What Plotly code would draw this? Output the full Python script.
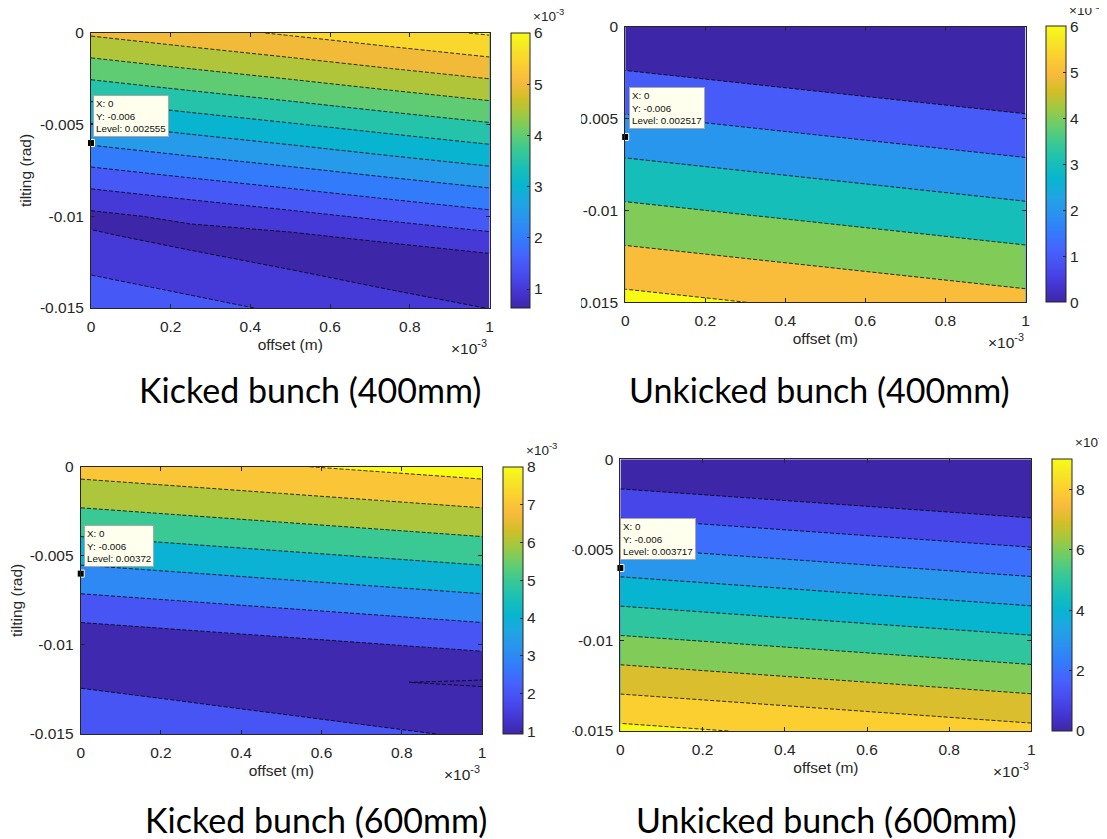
import plotly.graph_objects as go

# ---------------- data ----------------
# offset in units of 1e-3 m, tilting in rad, level in units of 1e-3
offset_fine = [0.0, 0.25, 0.5, 0.75, 1.0]
offset_edges = [0.0, 1.0]

tilt_kicked400 = [0, -0.001, -0.002, -0.003, -0.004, -0.005, -0.006, -0.007,
                  -0.008, -0.009, -0.010, -0.011, -0.012, -0.013, -0.014, -0.015]
level_kicked400 = [
    [5.07, 5.32, 5.56, 5.81, 6.05],
    [4.65, 4.90, 5.14, 5.39, 5.63],
    [4.23, 4.48, 4.72, 4.97, 5.21],
    [3.81, 4.06, 4.30, 4.55, 4.79],
    [3.39, 3.64, 3.88, 4.13, 4.37],
    [2.97, 3.22, 3.46, 3.71, 3.95],
    [2.55, 2.80, 3.04, 3.29, 3.53],
    [2.13, 2.38, 2.62, 2.87, 3.11],
    [1.71, 1.96, 2.20, 2.45, 2.69],
    [1.29, 1.54, 1.78, 2.03, 2.27],
    [0.87, 1.12, 1.36, 1.61, 1.85],
    [1.05, 0.83, 0.94, 1.19, 1.43],
    [1.25, 1.03, 0.82, 0.77, 1.01],
    [1.46, 1.24, 1.02, 0.80, 0.59],
    [1.66, 1.44, 1.22, 1.00, 0.79],
    [1.86, 1.64, 1.42, 1.21, 0.99],
]

tilt_unkicked400 = [0, -0.005, -0.010, -0.015]
level_unkicked400 = [
    [0.00, -0.99],
    [2.10, 1.11],
    [4.20, 3.21],
    [6.30, 5.31],
]

tilt_kicked600 = [0, -0.001, -0.002, -0.003, -0.004, -0.005, -0.006, -0.007,
                  -0.008, -0.009, -0.010, -0.011, -0.012, -0.0121,
                  -0.013, -0.014, -0.015]
level_kicked600 = [
    [7.43, 7.68, 7.93, 8.18, 8.43],
    [6.81, 7.06, 7.31, 7.56, 7.81],
    [6.19, 6.44, 6.69, 6.94, 7.19],
    [5.57, 5.82, 6.07, 6.32, 6.57],
    [4.95, 5.20, 5.45, 5.70, 5.95],
    [4.33, 4.58, 4.83, 5.08, 5.33],
    [3.70, 3.95, 4.20, 4.45, 4.70],
    [3.08, 3.33, 3.58, 3.83, 4.08],
    [2.46, 2.71, 2.96, 3.21, 3.46],
    [1.84, 2.09, 2.34, 2.59, 2.84],
    [1.22, 1.47, 1.72, 1.97, 2.22],
    [1.52, 1.27, 1.10, 1.35, 1.60],
    [1.85, 1.61, 1.37, 1.13, 0.98],
    [1.89, 1.64, 1.40, 1.03, 0.92],
    [2.19, 1.95, 1.70, 1.46, 1.22],
    [2.52, 2.28, 2.04, 1.80, 1.56],
    [2.86, 2.62, 2.38, 2.13, 1.89],
]

tilt_unkicked600 = [0, -0.005, -0.010, -0.015]
level_unkicked600 = [
    [-0.01, -1.00],
    [3.08, 2.09],
    [6.17, 5.18],
    [9.26, 8.27],
]

contour_start = [1, 1, 1, 1]
contour_step = [0.5, 1, 1, 1]
contour_end = [6, 6, 8, 9]
colorbar_min = [0.63, 0, 0.93, 0]
colorbar_max = [6, 6, 8, 9]
colorbar_ticks = [[1, 2, 3, 4, 5, 6], [0, 1, 2, 3, 4, 5, 6],
                  [1, 2, 3, 4, 5, 6, 7, 8], [0, 2, 4, 6, 8]]

x_tick_vals = [0, 0.2, 0.4, 0.6, 0.8, 1]
x_tick_text = ["0", "0.2", "0.4", "0.6", "0.8", "1"]
y_tick_vals = [0, -0.005, -0.01, -0.015]
y_tick_text = ["0", "-0.005", "-0.01", "-0.015"]

tip_x = [0, 0, 0, 0]
tip_y = [-0.006, -0.006, -0.006, -0.006]
tip_level = ["0.002555", "0.002517", "0.00372", "0.003717"]

captions = ["Kicked bunch (400mm)", "Unkicked bunch (400mm)",
            "Kicked bunch (600mm)", "Unkicked bunch (600mm)"]

panels_x = [offset_fine, offset_edges, offset_fine, offset_edges]
panels_y = [tilt_kicked400, tilt_unkicked400, tilt_kicked600, tilt_unkicked600]
panels_z = [level_kicked400, level_unkicked400, level_kicked600, level_unkicked600]

# ---------------- style ----------------
# the page places the figure 8 px from the top-left corner of the window
OFF = 8
W, H = 1107 - OFF, 839 - OFF
PARULA = [
    (0.2422, 0.1504, 0.6603), (0.2706, 0.2147, 0.8364), (0.2813, 0.3006, 0.9414),
    (0.2699, 0.3892, 0.9906), (0.1963, 0.4847, 0.9892), (0.1687, 0.5703, 0.9359),
    (0.1248, 0.6459, 0.8883), (0.0297, 0.7082, 0.8163), (0.0964, 0.7500, 0.7120),
    (0.2161, 0.7843, 0.5923), (0.3909, 0.8029, 0.4354), (0.6174, 0.7876, 0.2612),
    (0.8203, 0.7498, 0.1535), (0.9728, 0.7298, 0.2394), (0.9892, 0.8136, 0.1885),
    (0.9597, 0.9135, 0.1423), (0.9769, 0.9839, 0.0805)]
PARULA_POS = [0, 4, 8, 12, 16, 20, 24, 28, 32, 36, 40, 44, 48, 52, 56, 60, 63]


def parula(v):
    v = min(max(v, 0.0), 1.0) * 63
    for i in range(len(PARULA_POS) - 1):
        p0, p1 = PARULA_POS[i], PARULA_POS[i + 1]
        if v <= p1:
            f = (v - p0) / (p1 - p0)
            c = [a + (b - a) * f for a, b in zip(PARULA[i], PARULA[i + 1])]
            return "rgb(%d,%d,%d)" % tuple(round(255 * t) for t in c)
    c = PARULA[-1]
    return "rgb(%d,%d,%d)" % tuple(round(255 * t) for t in c)


parula_scale = [[p / 63, parula(p / 63)] for p in PARULA_POS]


def band_scale(start, step, end, cmin, cmax):
    nc = int(round((end - start) / step)) + 1
    out = []
    for k in range(nc + 1):
        lower = cmin if k == 0 else start + (k - 1) * step
        out.append([k / nc, parula((lower - cmin) / (cmax - cmin))])
    return out


# pixel boxes in window coordinates (left, top, right, bottom)
plot_px = [(91, 33, 489.5, 308), (625.2, 26.7, 1025.5, 302.3),
           (80.7, 466.7, 482, 734), (620.4, 459.3, 1031.4, 731)]
cbar_px = [(511, 33, 530, 308), (1046, 26.7, 1066, 302.3),
           (503, 466.7, 523, 734), (1052, 459.3, 1072, 731)]
caption_px = [(310, 390), (820, 390), (316, 819), (826, 819)]
show_ytitle = [True, False, True, False]
tip_shift = [(2, 6), (4, 8), (3, 7), (0, 8)]


def px(x):
    return (x - OFF) / W


def py(y):
    return 1 - (y - OFF) / H


TXT = "#262626"
FONT = "Liberation Sans, Arial, Helvetica, sans-serif"
TICKSIZE = 15.5

fig = go.Figure()
annotations = []
shapes = []
layout = {}

for i in range(4):
    sfx = "" if i == 0 else str(i + 1)
    xa, ya = "x" + sfx, "y" + sfx
    l, t, r, b = plot_px[i]
    cl, ct, cr, cb = cbar_px[i]

    fig.add_trace(go.Contour(
        x=panels_x[i], y=panels_y[i], z=panels_z[i], xaxis=xa, yaxis=ya,
        autocontour=False,
        contours=dict(start=contour_start[i], end=contour_end[i],
                      size=contour_step[i], coloring="fill", showlines=True),
        colorscale=band_scale(contour_start[i], contour_step[i], contour_end[i],
                              colorbar_min[i], colorbar_max[i]),
        showscale=False,
        line=dict(color="black", width=0.8, dash="4px,2px", smoothing=0),
        hoverinfo="skip"))

    # continuous colorbar (MATLAB-style)
    fig.add_trace(go.Scatter(
        x=[0.5], y=[-0.0075], xaxis=xa, yaxis=ya, mode="markers",
        marker=dict(size=1, opacity=0, color=[colorbar_min[i]],
                    colorscale=parula_scale, cmin=colorbar_min[i], cmax=colorbar_max[i],
                    showscale=True,
                    colorbar=dict(x=px(cl), xanchor="left", xpad=0, ypad=0,
                                  y=py(cb), yanchor="bottom",
                                  len=(cb - ct) / H, lenmode="fraction",
                                  thickness=cr - cl, thicknessmode="pixels",
                                  outlinewidth=1, outlinecolor=TXT,
                                  tickvals=colorbar_ticks[i], ticks="inside", ticklen=3,
                                  tickcolor=TXT,
                                  tickfont=dict(family=FONT, size=TICKSIZE, color=TXT))),
        hoverinfo="skip", showlegend=False))

    # data tip marker
    fig.add_trace(go.Scatter(
        x=[tip_x[i]], y=[tip_y[i]], xaxis=xa, yaxis=ya, mode="markers",
        marker=dict(symbol="square", size=7, color="black",
                    line=dict(color="white", width=1)),
        cliponaxis=False, hoverinfo="skip", showlegend=False))

    xdict = dict(
        domain=[px(l), px(r)], anchor=ya, range=[0, 1],
        tickvals=x_tick_vals, ticktext=x_tick_text,
        ticks="inside", ticklen=4, tickcolor=TXT, showline=True, linecolor=TXT,
        linewidth=1, mirror="ticks", showgrid=False, zeroline=False, automargin=False,
        tickfont=dict(family=FONT, size=TICKSIZE, color=TXT), ticklabelstandoff=4,
        title=dict(text="offset (m)", standoff=5,
                   font=dict(family=FONT, size=TICKSIZE, color=TXT)))
    ydict = dict(
        domain=[py(b), py(t)], anchor=xa, range=[-0.015, 0],
        tickvals=y_tick_vals, ticktext=y_tick_text,
        ticks="inside", ticklen=4, tickcolor=TXT, showline=True, linecolor=TXT,
        linewidth=1, mirror="ticks", showgrid=False, zeroline=False, automargin=False,
        tickfont=dict(family=FONT, size=TICKSIZE, color=TXT), ticklabelstandoff=3)
    if show_ytitle[i]:
        ydict["title"] = dict(text="tilting (rad)", standoff=4,
                              font=dict(family=FONT, size=TICKSIZE, color=TXT))
    layout["xaxis" + sfx] = xdict
    layout["yaxis" + sfx] = ydict

    # x-axis exponent
    annotations.append(dict(
        x=px(r), y=py(b + 27), xref="paper", yref="paper", xanchor="right",
        yanchor="top", showarrow=False, text="\u00d710<sup>-3</sup>",
        font=dict(family=FONT, size=TICKSIZE, color=TXT)))
    # colorbar exponent
    annotations.append(dict(
        x=px(cr + 1), y=py(ct - 7), xref="paper", yref="paper", xanchor="left",
        yanchor="bottom", showarrow=False, text="\u00d710<sup>-3</sup>",
        font=dict(family=FONT, size=13.5, color=TXT)))
    # data tip box
    annotations.append(dict(
        x=tip_x[i], y=tip_y[i], xref=xa, yref=ya, xanchor="left", yanchor="bottom",
        xshift=tip_shift[i][0], yshift=tip_shift[i][1], showarrow=False, align="left",
        text="X: %g<br>Y: %g<br>Level: %s" % (tip_x[i], tip_y[i], tip_level[i]),
        bgcolor="#FFFFEE", bordercolor="#A8A8A8", borderwidth=1, borderpad=2,
        font=dict(family=FONT, size=9.8, color="#111111")))
    # caption
    annotations.append(dict(
        x=px(caption_px[i][0]), y=py(caption_px[i][1]), xref="paper", yref="paper",
        xanchor="center", yanchor="middle", showarrow=False, text=captions[i],
        font=dict(family="Lato, Carlito, sans-serif", size=34, color="black")))

# the right-hand screenshots overlap and cut the left part of their tick labels
shapes.append(dict(type="rect", xref="paper", yref="paper", layer="above",
                   x0=px(560), x1=px(581), y0=py(315), y1=py(24),
                   fillcolor="white", line=dict(width=0)))
shapes.append(dict(type="rect", xref="paper", yref="paper", layer="above",
                   x0=px(545), x1=px(572.5), y0=py(745), y1=py(452),
                   fillcolor="white", line=dict(width=0)))

fig.update_layout(
    width=W, height=H, margin=dict(l=0, r=0, t=0, b=0, autoexpand=False),
    paper_bgcolor="white", plot_bgcolor="white", showlegend=False,
    annotations=annotations, shapes=shapes, **layout)

fig.write_html("out.html")
